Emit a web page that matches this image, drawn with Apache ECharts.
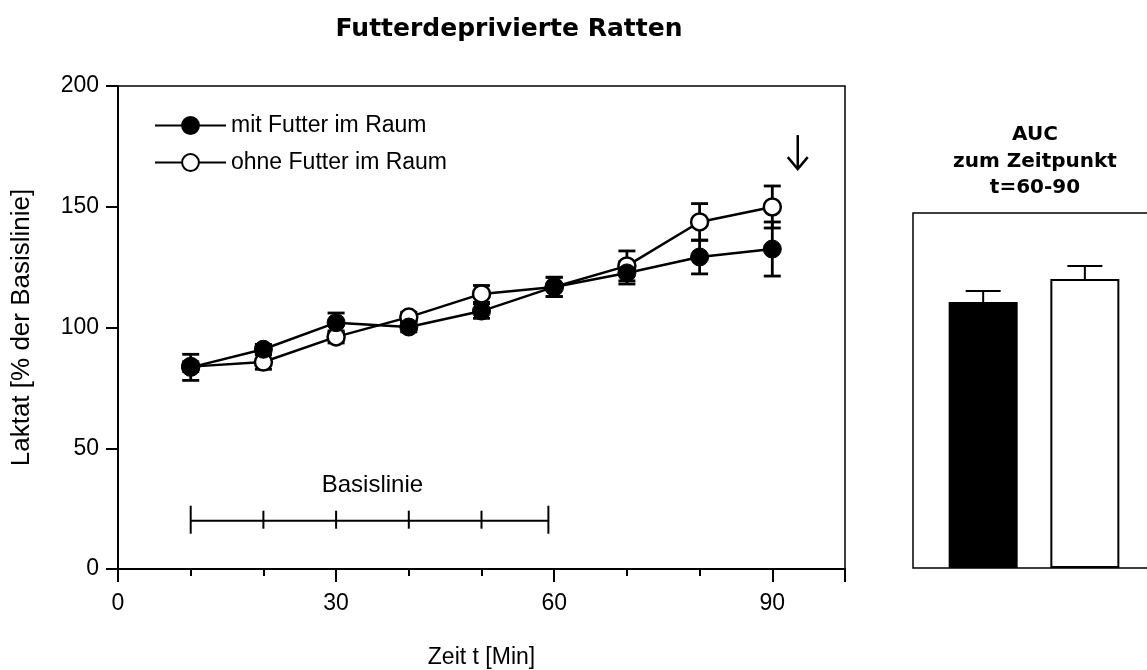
<!DOCTYPE html>
<html>
<head>
<meta charset="utf-8">
<script src="https://cdn.jsdelivr.net/npm/echarts@6/dist/echarts.min.js"></script>
<style>
html,body{margin:0;padding:0;background:#fff;}
#chart{width:1147px;height:670px;}
</style>
</head>
<body>
<div id="chart"></div>
<script>
// ---- data ----
const times = [10, 20, 30, 40, 50, 60, 70, 80, 90];
const mitFutter = [83.5, 91, 102, 100.2, 106.8, 116.8, 122.6, 129.2, 132.5];
const mitFutterSem = [5.4, 2, 4, 2, 3, 4, 4.6, 7, 11.2];
const ohneFutter = [83.8, 85.7, 96.1, 104.3, 113.9, 116.8, 125.5, 143.7, 149.9];
const ohneFutterSem = [2, 3, 2.5, 2, 3.5, 4, 6.2, 7.6, 8.7];
const seriesNames = ['mit Futter im Raum', 'ohne Futter im Raum'];
const xTicks = [0, 30, 60, 90];
const yTicks = [0, 50, 100, 150, 200];
const basisTicks = [10, 20, 30, 40, 50, 59.2];
const basisLevel = 20;
const basisLabel = 'Basislinie';
const arrowAt = [93.5, 165.6, 179.7]; // t, bottom, top
const aucValues = [3746, 4070];
const aucSem = [155, 183];
const aucPos = [1, 2];

const FONT = 'Liberation Sans, Arial, sans-serif';
const BFONT = 'DejaVu Sans, sans-serif';

function errItem(params, api) {
  const x = api.value(0), y = api.value(1), e = api.value(2);
  const top = api.coord([x, y + e]);
  const bot = api.coord([x, y - e]);
  const hw = 8.5;
  const st = {stroke: '#000', lineWidth: 2.8};
  return {type: 'group', children: [
    {type: 'line', shape: {x1: top[0], y1: top[1], x2: bot[0], y2: bot[1]}, style: st},
    {type: 'line', shape: {x1: top[0] - hw, y1: top[1], x2: top[0] + hw, y2: top[1]}, style: st},
    {type: 'line', shape: {x1: bot[0] - hw, y1: bot[1], x2: bot[0] + hw, y2: bot[1]}, style: st}
  ]};
}

const chart = echarts.init(document.getElementById('chart'));
chart.setOption({
  animation: false,
  backgroundColor: '#fff',
  title: [
    {text: 'Futterdeprivierte Ratten', left: 504, top: 12, textAlign: 'center',
     textStyle: {fontFamily: BFONT, fontWeight: 'bold', fontSize: 25, color: '#000'}},
    {text: 'AUC\nzum Zeitpunkt\nt=60-90', left: 1030, top: 117, textAlign: 'center',
     textStyle: {fontFamily: BFONT, fontWeight: 'bold', fontSize: 20, lineHeight: 26.5, color: '#000'}}
  ],
  legend: {
    data: seriesNames, orient: 'vertical', left: 149, top: 109,
    itemWidth: 71, itemHeight: 21, itemGap: 14,
    textStyle: {fontFamily: FONT, fontSize: 23, color: '#000'}
  },
  grid: [
    {left: 118, top: 86, width: 727, height: 483, show: true, borderColor: '#000', borderWidth: 1.5,
     containLabel: false, outerBoundsMode: 'none'},
    {left: 913, top: 213, width: 241, height: 355, show: true, borderColor: '#000', borderWidth: 1.5,
     containLabel: false, outerBoundsMode: 'none'}
  ],
  xAxis: [
    {gridIndex: 0, type: 'value', min: 0, max: 100, interval: 30, position: 'bottom',
     axisLine: {lineStyle: {color: '#000', width: 2}},
     axisTick: {length: 13, lineStyle: {width: 2, color: '#000'}},
     axisLabel: {margin: 23, fontFamily: FONT, fontSize: 23, color: '#000',
       formatter: v => (xTicks.indexOf(v) >= 0 ? String(v) : '')},
     splitLine: {show: false},
     name: 'Zeit t [Min]', nameLocation: 'middle', nameGap: 77,
     nameTextStyle: {fontFamily: FONT, fontSize: 23, color: '#000'}},
    {gridIndex: 0, type: 'value', min: 0, max: 100, interval: 10, position: 'bottom',
     axisLine: {show: false},
     axisTick: {length: 7, lineStyle: {width: 2, color: '#000'}},
     axisLabel: {show: false}, splitLine: {show: false}},
    {gridIndex: 1, type: 'value', min: 0.31, max: 2.68, show: false, splitLine: {show: false}}
  ],
  yAxis: [
    {gridIndex: 0, type: 'value', min: 0, max: 200, interval: 50,
     axisLine: {show: true, lineStyle: {color: '#000', width: 2}},
     axisTick: {show: true, length: 12, lineStyle: {width: 2, color: '#000'}},
     axisLabel: {margin: 19, fontFamily: FONT, fontSize: 23, color: '#000',
       formatter: v => (yTicks.indexOf(v) >= 0 ? String(v) : '')},
     splitLine: {show: false},
     name: 'Laktat [% der Basislinie]', nameLocation: 'middle', nameGap: 83,
     nameTextStyle: {fontFamily: FONT, fontSize: 26, color: '#000'}},
    {gridIndex: 1, type: 'value', min: 0, max: 5000, show: false, splitLine: {show: false}}
  ],
  series: [
    {type: 'custom', xAxisIndex: 0, yAxisIndex: 0, z: 1, renderItem: errItem,
     data: times.map((t, i) => [t, ohneFutter[i], ohneFutterSem[i]])},
    {type: 'custom', xAxisIndex: 0, yAxisIndex: 0, z: 1, renderItem: errItem,
     data: times.map((t, i) => [t, mitFutter[i], mitFutterSem[i]])},
    {name: seriesNames[1], type: 'line', xAxisIndex: 0, yAxisIndex: 0, z: 3,
     data: times.map((t, i) => [t, ohneFutter[i]]),
     symbol: 'circle', symbolSize: 17,
     itemStyle: {color: '#fff', borderColor: '#000', borderWidth: 2.5},
     lineStyle: {color: '#000', width: 2.5}},
    {name: seriesNames[0], type: 'line', xAxisIndex: 0, yAxisIndex: 0, z: 4,
     data: times.map((t, i) => [t, mitFutter[i]]),
     symbol: 'circle', symbolSize: 18,
     itemStyle: {color: '#000', borderColor: '#000', borderWidth: 1},
     lineStyle: {color: '#000', width: 2.5}},
    // Basislinie bracket
    {type: 'custom', xAxisIndex: 0, yAxisIndex: 0, z: 2,
     data: [[basisTicks[0], basisLevel]],
     renderItem: function (params, api) {
       const st = {stroke: '#000', lineWidth: 2};
       const pts = basisTicks.map(t => api.coord([t, basisLevel]));
       const children = [{type: 'line', shape: {x1: pts[0][0], y1: pts[0][1], x2: pts[pts.length - 1][0], y2: pts[0][1]}, style: st}];
       pts.forEach((p, i) => {
         const end = (i === 0 || i === pts.length - 1);
         const up = end ? 15 : 10, dn = end ? 13 : 8;
         children.push({type: 'line', shape: {x1: p[0], y1: p[1] - up, x2: p[0], y2: p[1] + dn}, style: st});
       });
       const mid = api.coord([(basisTicks[0] + 60) / 2, basisLevel]);
       children.push({type: 'text', x: mid[0], y: mid[1] - 35,
         style: {text: basisLabel, fontFamily: FONT, fontSize: 24, fill: '#000', align: 'center', verticalAlign: 'middle'}});
       return {type: 'group', children: children};
     }},
    // arrow
    {type: 'custom', xAxisIndex: 0, yAxisIndex: 0, z: 2,
     data: [arrowAt],
     renderItem: function (params, api) {
       const top = api.coord([api.value(0), api.value(2)]);
       const bot = api.coord([api.value(0), api.value(1)]);
       const st = {stroke: '#000', lineWidth: 2.5, fill: 'none'};
       return {type: 'group', children: [
         {type: 'line', shape: {x1: top[0], y1: top[1], x2: bot[0], y2: bot[1]}, style: st},
         {type: 'polyline', shape: {points: [[bot[0] - 10, bot[1] - 12], [bot[0], bot[1]], [bot[0] + 10, bot[1] - 12]]}, style: st}
       ]};
     }},
    // AUC bars
    {type: 'bar', xAxisIndex: 2, yAxisIndex: 1, barWidth: 69, z: 2,
     data: [
       {value: [aucPos[0], aucValues[0]], itemStyle: {color: '#000', borderColor: '#000', borderWidth: 2}},
       {value: [aucPos[1], aucValues[1]], itemStyle: {color: '#fff', borderColor: '#000', borderWidth: 2}}
     ]},
    {type: 'custom', xAxisIndex: 2, yAxisIndex: 1, z: 1,
     data: aucPos.map((p, i) => [p, aucValues[i], aucSem[i]]),
     renderItem: function (params, api) {
       const x = api.value(0), y = api.value(1), e = api.value(2);
       const top = api.coord([x, y + e]);
       const base = api.coord([x, y]);
       const st = {stroke: '#000', lineWidth: 2};
       return {type: 'group', children: [
         {type: 'line', shape: {x1: top[0], y1: top[1], x2: base[0], y2: base[1]}, style: st},
         {type: 'line', shape: {x1: top[0] - 17.5, y1: top[1], x2: top[0] + 17.5, y2: top[1]}, style: st}
       ]};
     }}
  ]
});
</script>
</body>
</html>
